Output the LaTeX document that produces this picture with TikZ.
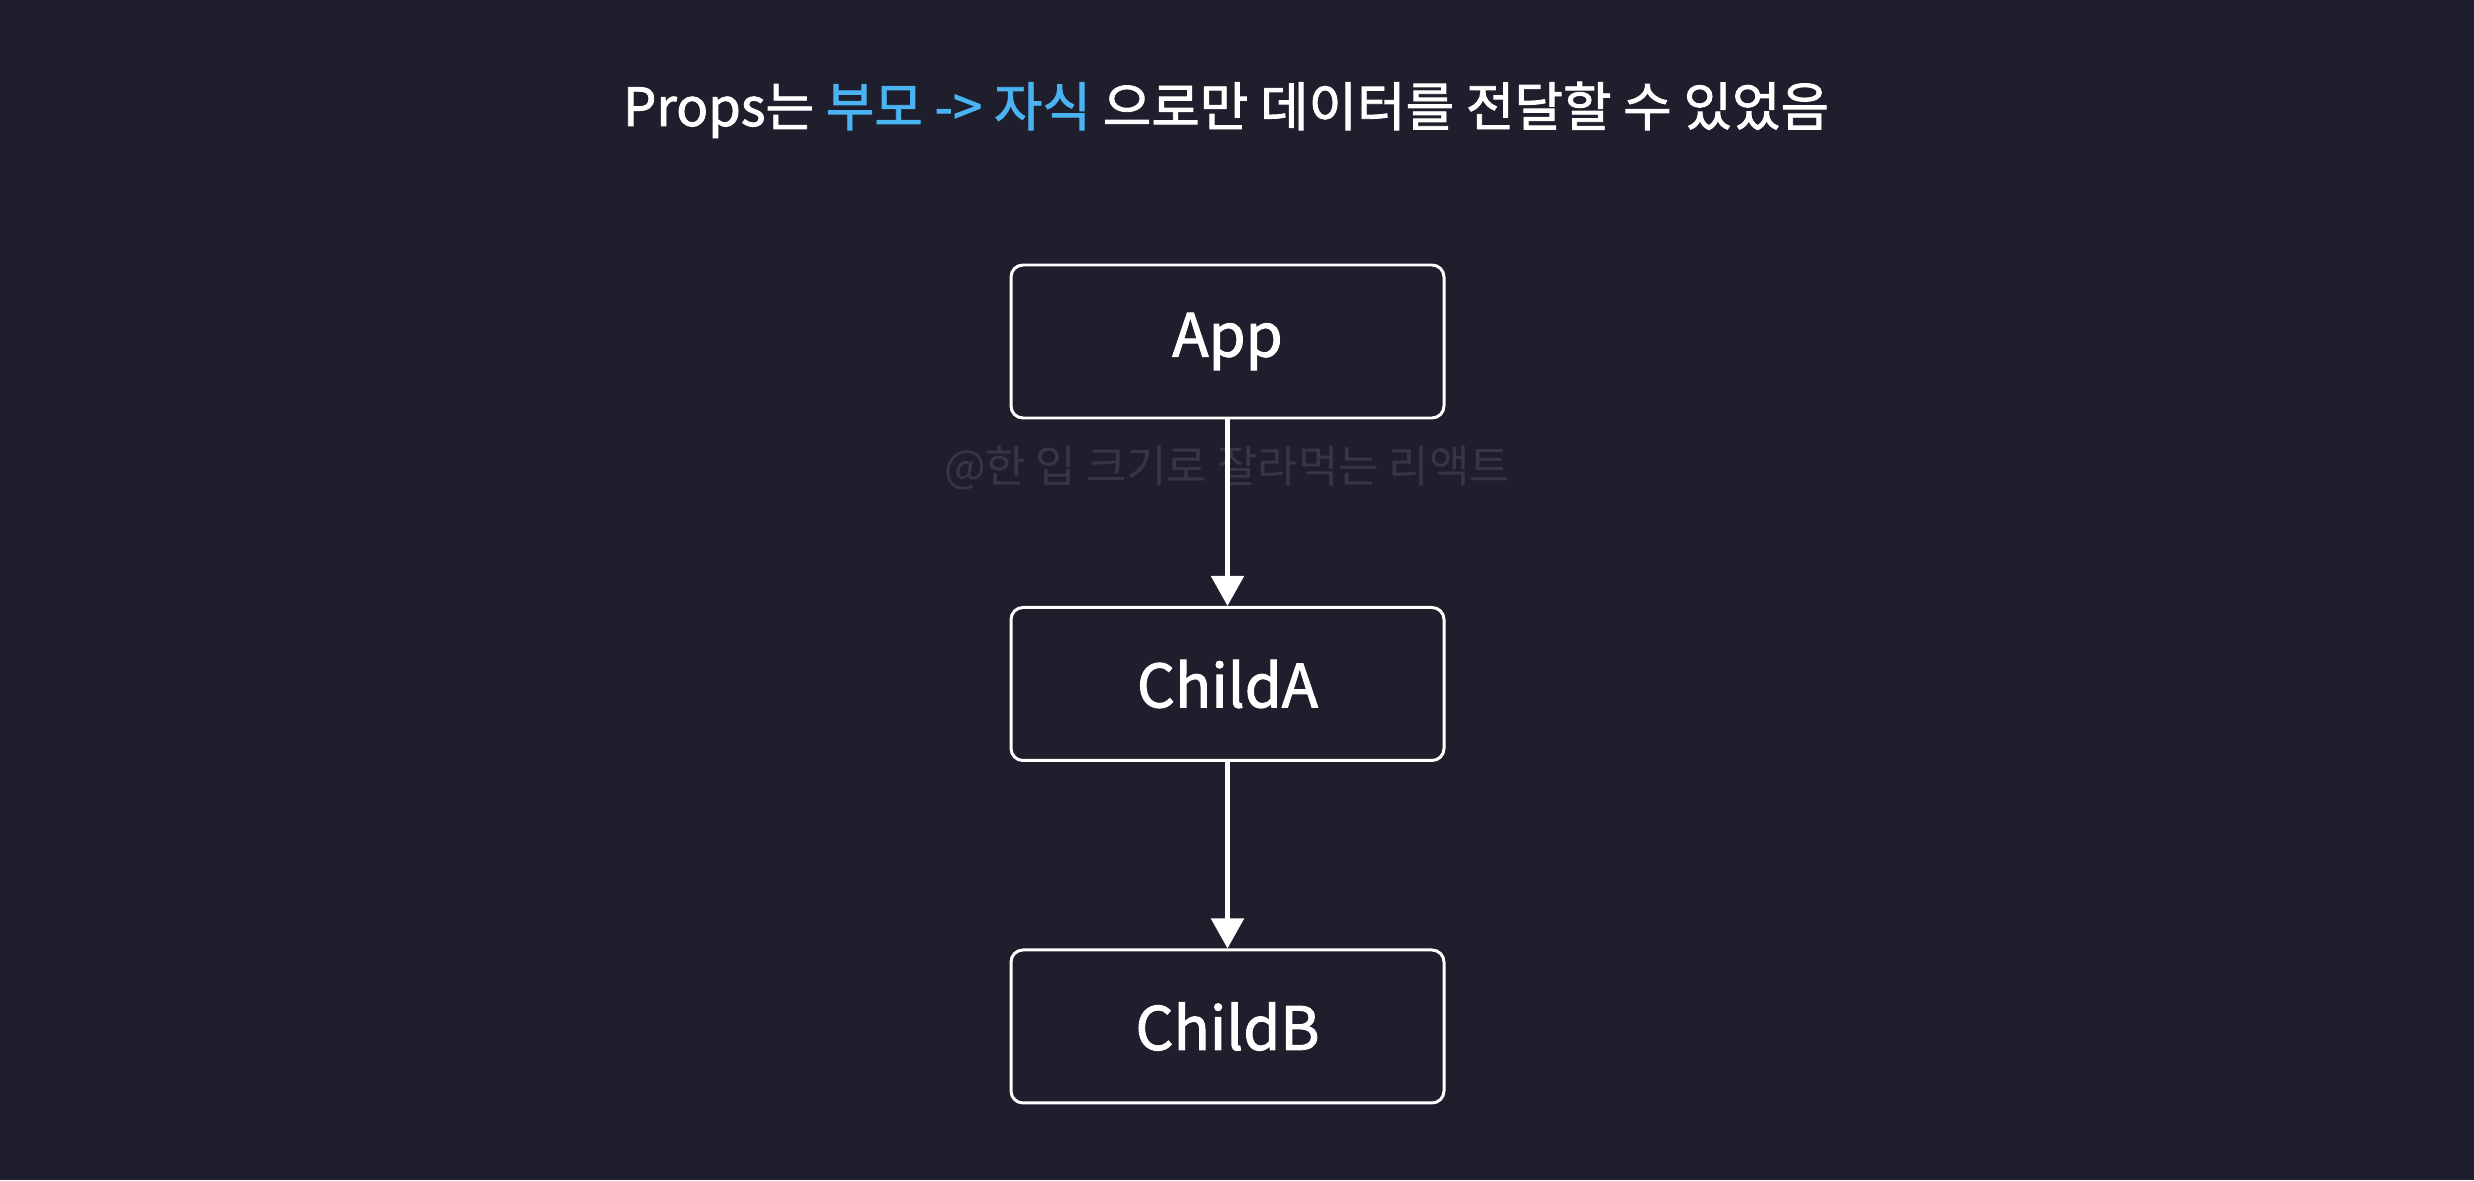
\documentclass[tikz,border=0pt]{standalone}
\usepackage{fontspec}
\setmainfont{Noto Sans CJK KR}
\newfontfamily\medfont[FakeBold=1.6]{Noto Sans CJK KR}
\usetikzlibrary{arrows.meta}
\usetikzlibrary{positioning}
\definecolor{bgDark}{HTML}{1E1E2C}
\definecolor{propBlue}{HTML}{4AB4F2}
\definecolor{markGray}{HTML}{363645}

\begin{document}
\begin{tikzpicture}[node distance=1.865cm,
    box/.style={draw=white,line width=0.85pt,rounded corners=1.2mm,fill=bgDark,
      minimum width=4.33cm,minimum height=1.53cm,text=white,font=\medfont\fontsize{17}{20}\selectfont}]
          \fill[bgDark] (0,0) rectangle (24.74,11.80);
          \useasboundingbox (0,0) rectangle (24.74,11.80);
          \node[text=white,font=\medfont\fontsize{15}{18}\selectfont] (title) at (12.26,10.70)
            {Props는 \textcolor{propBlue}{부모 -> 자식} 으로만 데이터를 전달할 수 있었음};
          \node[text=markGray,font=\fontsize{12.5}{15}\selectfont] (mark) at (12.27,7.12) {@한 입 크기로 잘라먹는 리액트};
          \node[box] (app) at (12.275,8.385) {App};
          \node[box,below=of app] (childA) {ChildA};
          \node[box,below=of childA] (childB) {ChildB};
          \draw[white,line width=1.5pt,-{Triangle[width=3.2mm,length=3mm]}] (app) -- (childA);
          \draw[white,line width=1.5pt,-{Triangle[width=3.2mm,length=3mm]}] (childA) -- (childB);
        \end{tikzpicture}
\end{document}
